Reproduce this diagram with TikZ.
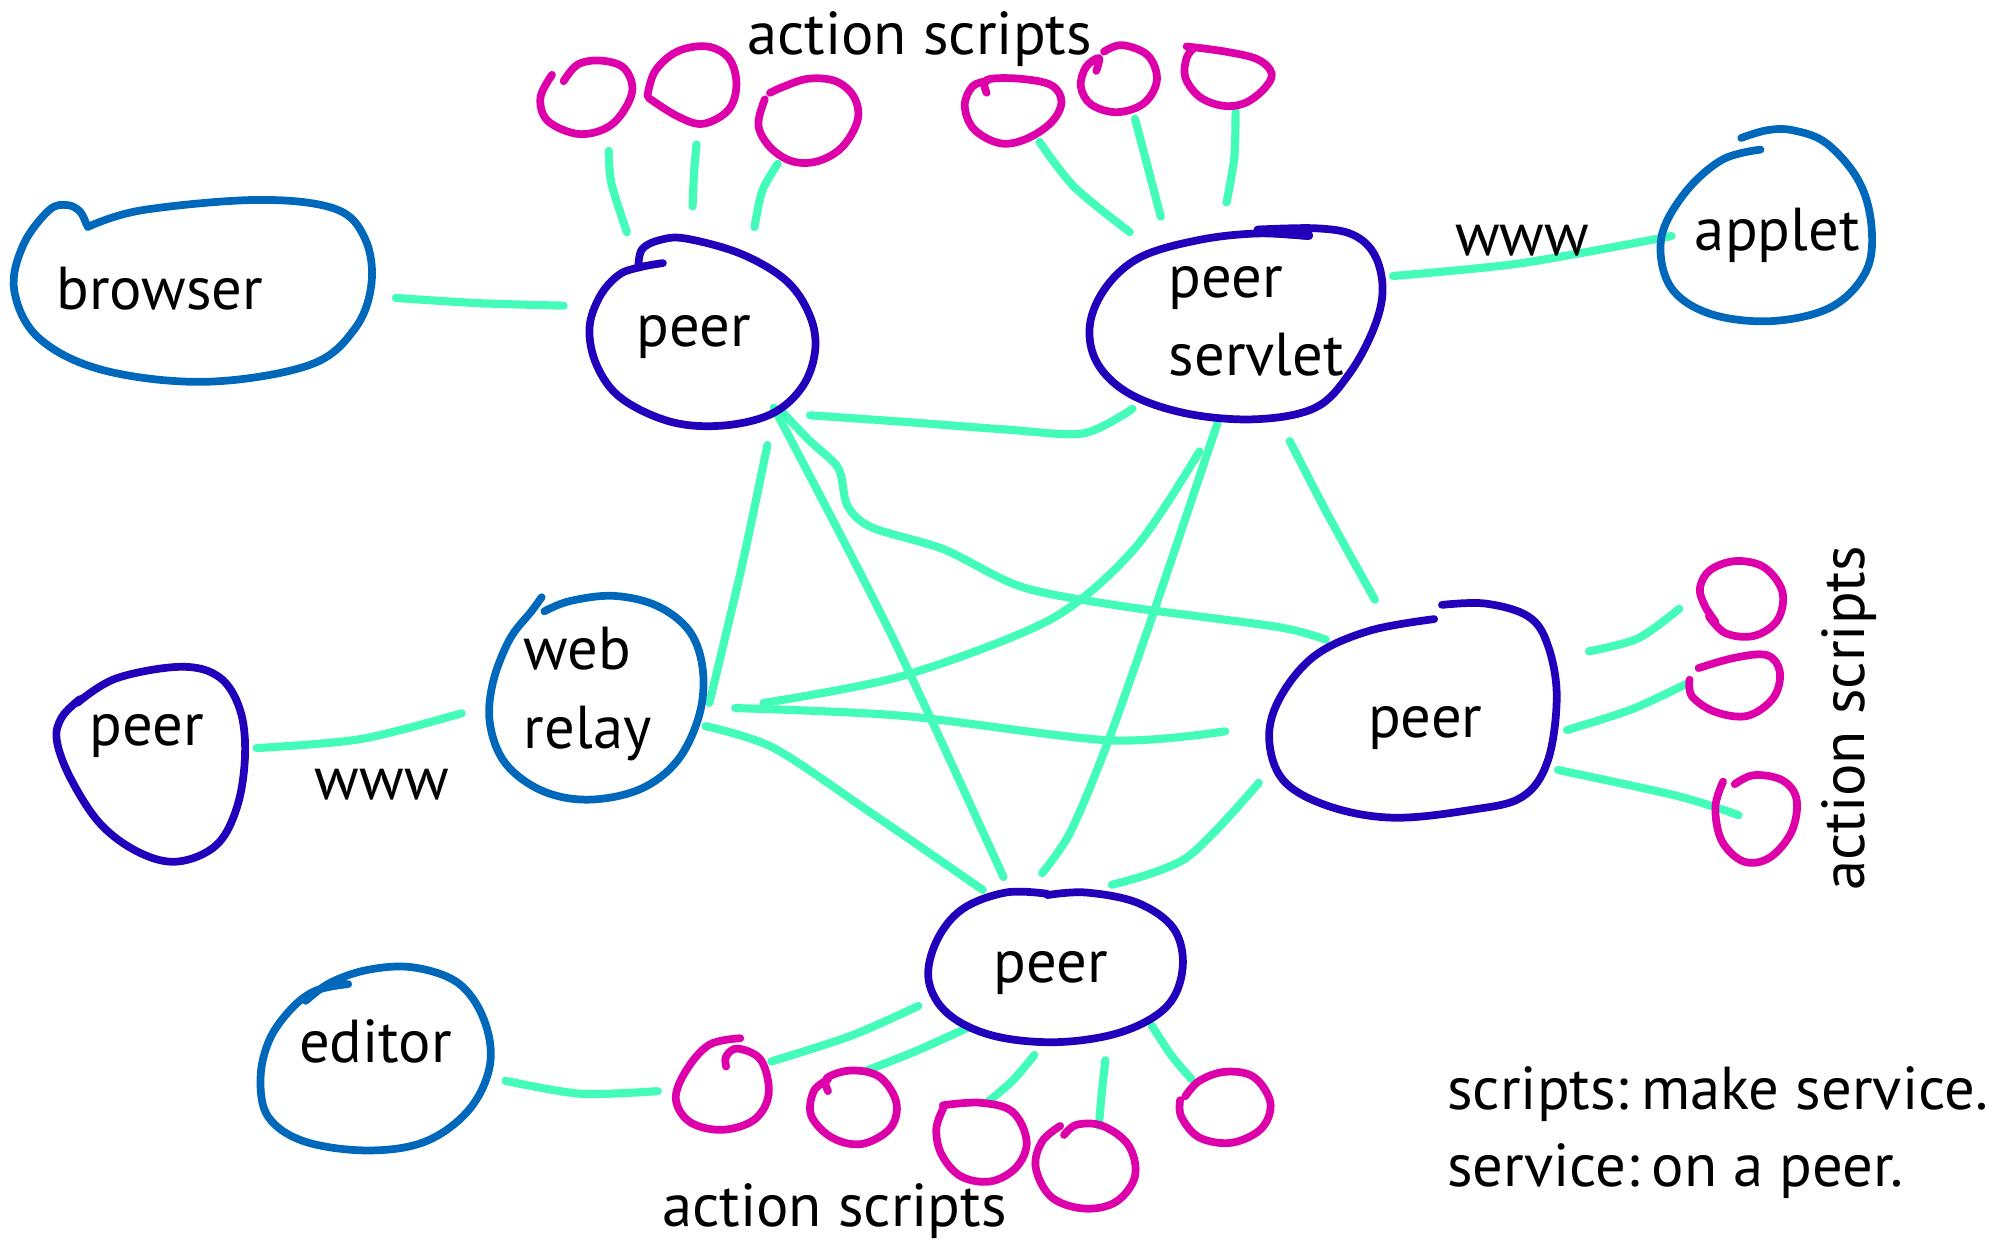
\documentclass[tikz,border=0pt]{standalone}
\usepackage{fontspec}
\setmainfont{PT Sans}
\definecolor{peerc}{RGB}{34,0,187}
\definecolor{bluec}{RGB}{0,104,186}
\definecolor{linkc}{RGB}{68,252,186}
\definecolor{scriptc}{RGB}{221,0,170}
\begin{document}
\begin{tikzpicture}[x=1pt,y=-1pt,
  peerline/.style={draw=peerc,line width=6pt,line cap=round,line join=round},
  blueline/.style={draw=bluec,line width=6pt,line cap=round,line join=round},
  link/.style={draw=linkc,line width=6.3pt,line cap=round,line join=round},
  script/.style={draw=scriptc,line width=6pt,line cap=round,line join=round},
  lbl/.style={font=\fontsize{47}{56}\selectfont,inner sep=0pt,text=black}]
\useasboundingbox (0,0) rectangle (1560,964);

% ---------- connectors ----------
\draw[link] plot[smooth] coordinates {(307,231) (370,235) (437,237)};
\draw[link] plot[smooth] coordinates {(472,117) (474,142) (486,180)};
\draw[link] plot[smooth] coordinates {(540,112) (538,136) (537,160)};
\draw[link] plot[smooth] coordinates {(603,127) (591,148) (585,176)};
\draw[link] plot[smooth] coordinates {(806,110) (833,145) (876,180)};
\draw[link] plot[smooth] coordinates {(880,92) (890,130) (900,168)};
\draw[link] plot[smooth] coordinates {(958,86) (957,122) (951,157)};
\draw[link] plot[smooth] coordinates {(1080,214) (1180,204) (1296,183)};
\draw[link] plot[smooth] coordinates {(628,322) (700,327) (780,333) (840,336) (878,317)};
\draw[link] plot[smooth] coordinates {(595,345) (575,440) (550,545)};
\draw[link] plot[smooth] coordinates {(600,316) (690,490) (778,680)};
\draw[link] plot[smooth] coordinates {(606,319) (628,342) (650,363) (657,392) (676,409) (732,426) (792,455) (870,470) (990,486) (1028,496)};
\draw[link] plot[smooth] coordinates {(944,328) (892,482) (858,578) (830,645) (808,677)};
\draw[link] plot[smooth] coordinates {(930,350) (880,425) (815,480) (700,524) (592,545)};
\draw[link] plot[smooth] coordinates {(1000,342) (1030,400) (1066,465)};
\draw[link] plot[smooth] coordinates {(570,549) (700,555) (860,574) (950,567)};
\draw[link] plot[smooth] coordinates {(547,563) (600,580) (675,630) (762,690)};
\draw[link] plot[smooth] coordinates {(199,580) (280,573) (358,553)};
\draw[link] plot[smooth] coordinates {(976,607) (920,665) (862,686)};
\draw[link] plot[smooth] coordinates {(1232,505) (1270,495) (1302,472)};
\draw[link] plot[smooth] coordinates {(1215,566) (1265,550) (1308,530)};
\draw[link] plot[smooth] coordinates {(1208,597) (1300,617) (1348,632)};
\draw[link] plot[smooth] coordinates {(712,780) (660,803) (598,823)};
\draw[link] plot[smooth] coordinates {(750,797) (710,815) (672,830)};
\draw[link] plot[smooth] coordinates {(802,818) (785,838) (765,855)};
\draw[link] plot[smooth] coordinates {(857,822) (854,850) (852,873)};
\draw[link] plot[smooth] coordinates {(893,795) (908,818) (924,837)};
\draw[link] plot[smooth] coordinates {(392,838) (450,848) (510,846)};

% ---------- blobs ----------
% browser
\draw[blueline] plot[smooth,tension=0.6] coordinates {(68,176) (110,163) (200,155) (260,162) (283,185) (288,220) (275,255) (240,283) (160,296) (80,287) (30,262) (11,225) (18,190) (38,163) (52,159) (62,164) (67,174)};
% top-left peer
\draw[peerline] plot[smooth,tension=0.6] coordinates {(495,206) (498,193) (512,186) (532,185) (575,197) (610,218) (628,245) (632,272) (622,300) (598,321) (560,330) (520,327) (482,309) (463,284) (457,255) (465,230) (480,213) (497,207) (514,204)};
% peer servlet
\draw[peerline] plot[smooth,tension=0.6] coordinates {(1015,183) (975,181) (930,186) (885,199) (858,222) (845,252) (851,282) (877,306) (922,321) (975,325) (1020,316) (1046,290) (1065,255) (1072,225) (1066,198) (1049,182) (1020,177) (975,178)};
\draw[peerc,line width=8pt,line cap=round] (976,179) -- (1014,182);
% applet
\draw[blueline] plot[smooth,tension=0.6] coordinates {(1365,116) (1335,124) (1306,150) (1288,185) (1295,222) (1325,243) (1373,249) (1420,238) (1447,210) (1451,175) (1441,140) (1416,111) (1390,101) (1370,101) (1350,107)};
% web relay
\draw[blueline] plot[smooth,tension=0.6] coordinates {(420,463) (412,474) (395,496) (382,530) (380,562) (392,592) (420,613) (456,620) (496,612) (525,590) (542,555) (545,520) (535,490) (510,470) (476,462) (442,466) (422,474)};
% left peer
\draw[peerline] plot[smooth,tension=0.6] coordinates {(60,545) (90,526) (140,517) (170,525) (186,550) (190,585) (184,625) (168,655) (138,668) (108,661) (78,639) (55,604) (44,574) (48,556) (62,542)};
% right peer
\draw[peerline] plot[smooth,tension=0.6] coordinates {(1112,480) (1062,489) (1020,508) (993,540) (984,572) (995,605) (1030,625) (1080,634) (1140,628) (1180,618) (1200,590) (1207,540) (1200,500) (1185,478) (1152,468) (1118,469)};
% bottom peer
\draw[peerline] plot[smooth,tension=0.6] coordinates {(812,693) (780,692) (746,705) (726,730) (720,760) (735,786) (770,803) (820,808) (870,800) (905,780) (917,750) (910,720) (882,700) (842,692) (812,694)};
% editor
\draw[blueline] plot[smooth,tension=0.6] coordinates {(270,763) (245,768) (226,782) (209,806) (202,836) (208,866) (236,885) (285,892) (330,885) (364,860) (380,825) (375,790) (355,762) (320,750) (285,752) (256,762) (237,776)};

% ---------- action scripts loops ----------
\draw[script] plot[smooth,tension=0.6] coordinates {(428,58) (419,76) (425,94) (450,104) (475,96) (490,72) (484,53) (466,47) (448,50) (437,63)};
\draw[script] plot[smooth,tension=0.6] coordinates {(502,74) (508,55) (525,40) (548,36) (565,45) (571,65) (565,85) (545,96) (525,90) (503,76)};
\draw[script] plot[smooth,tension=0.6] coordinates {(593,77) (588,97) (597,114) (614,125) (634,125) (653,114) (665,93) (662,75) (648,63) (627,61) (608,67) (597,72)};
\draw[script] plot[smooth,tension=0.6] coordinates {(765,72) (765,62) (790,61) (815,66) (823,79) (815,95) (795,108) (775,111) (755,100) (748,82) (754,67) (765,63)};
\draw[script] plot[smooth,tension=0.6] coordinates {(850,55) (852,45) (842,52) (838,67) (846,81) (866,87) (887,80) (897,62) (890,43) (870,35) (856,40)};
\draw[script] plot[smooth,tension=0.6] coordinates {(920,36) (950,40) (975,46) (986,57) (980,69) (965,80) (948,82) (930,75) (919,60) (920,45) (925,38)};
\draw[script] plot[smooth,tension=0.6] coordinates {(1330,482) (1322,470) (1318,456) (1326,442) (1346,435) (1368,440) (1382,459) (1378,481) (1360,493) (1338,491) (1325,478)};
\draw[script] plot[smooth,tension=0.6] coordinates {(1317,518) (1345,510) (1370,508) (1380,521) (1375,541) (1355,555) (1330,552) (1312,540) (1310,527)};
\draw[script] plot[smooth,tension=0.6] coordinates {(1336,606) (1330,626) (1335,652) (1352,668) (1372,665) (1389,645) (1393,620) (1382,605) (1360,601) (1345,608)};
\draw[script] plot[smooth,tension=0.6] coordinates {(574,805) (550,810) (532,830) (524,852) (535,870) (560,876) (585,868) (596,848) (590,822) (572,813) (563,819) (563,827)};
\draw[script] plot[smooth,tension=0.6] coordinates {(642,846) (641,836) (660,830) (682,835) (695,855) (690,875) (668,887) (645,882) (629,865) (631,846) (642,837)};
\draw[script] plot[smooth,tension=0.6] coordinates {(731,857) (760,855) (785,862) (796,885) (788,905) (768,916) (745,912) (730,895) (726,875) (732,858)};
\draw[script] plot[smooth,tension=0.6] coordinates {(822,873) (808,885) (803,905) (815,928) (840,937) (865,932) (880,912) (875,888) (855,873) (835,872) (825,880)};
\draw[script] plot[smooth,tension=0.6] coordinates {(919,850) (930,838) (950,831) (972,835) (985,855) (978,875) (955,886) (930,882) (916,866) (915,853)};

% ---------- labels ----------
\node[lbl,anchor=base] (tas) at (713,42) {action scripts};
\node[lbl,anchor=base] (tbrowser) at (124,240) {browser};
\node[lbl,anchor=base] (tpeer1) at (538,269) {peer};
\node[lbl,anchor=base west] (tpeer2) at (906,231) {peer};
\node[lbl,anchor=base west] (tservlet) at (906,291) {servlet};
\node[lbl,anchor=base] (twww1) at (1180,198) {www};
\node[lbl,anchor=base] (tapplet) at (1378,194) {applet};
\node[lbl,anchor=base west] (tweb) at (406,519) {web};
\node[lbl,anchor=base west] (trelay) at (406,580) {relay};
\node[lbl,anchor=base] (tpeer3) at (114,578) {peer};
\node[lbl,anchor=base] (twww2) at (296,620) {www};
\node[lbl,anchor=base] (tpeer4) at (1105,572) {peer};
\node[lbl,anchor=base,rotate=90] (tas2) at (1446,557) {action scripts};
\node[lbl,anchor=base] (tpeer5) at (815,762) {peer};
\node[lbl,anchor=base] (teditor) at (291,824) {editor};
\node[lbl,anchor=base] (tas3) at (647,951) {action scripts};
\node[lbl,anchor=base west] (tnote1) at (1122,860) {scripts:\hspace{0.2em}make service.};
\node[lbl,anchor=base west] (tnote2) at (1122,920) {service:\hspace{0.2em}on a peer.};
\end{tikzpicture}
\end{document}
